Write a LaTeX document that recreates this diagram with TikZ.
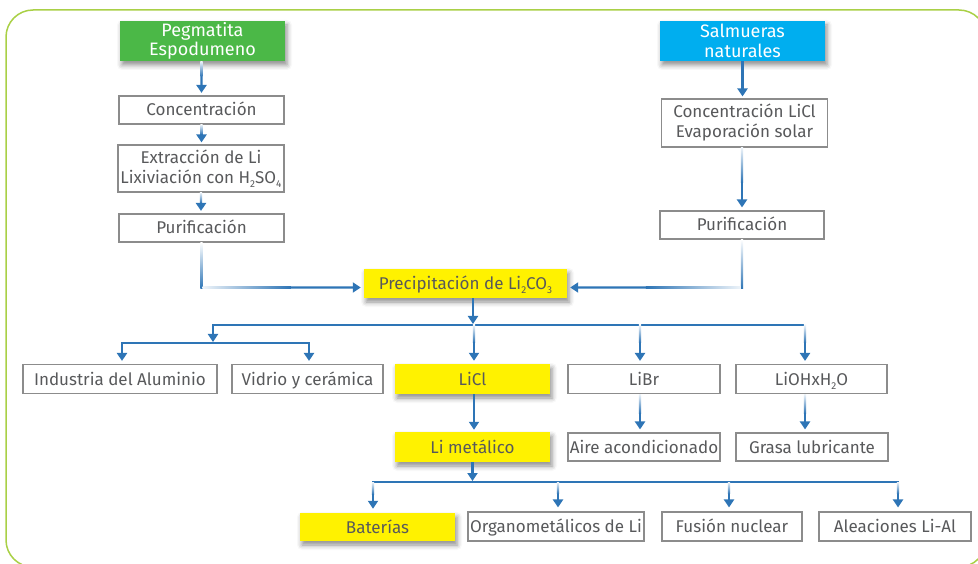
\documentclass[tikz,border=0pt]{standalone}
\usepackage{fontspec}
\setmainfont{Fira Sans}
\usetikzlibrary{arrows.meta,calc,shadows.blur}
\definecolor{frameg}{HTML}{A9D046}
\definecolor{arrowb}{HTML}{2E75B6}
\definecolor{boxg}{HTML}{8C8C8C}
\definecolor{txt}{HTML}{58595B}
\definecolor{yel}{HTML}{FFF200}
\definecolor{grn}{HTML}{4BB847}
\definecolor{cya}{HTML}{00AEEF}
\newcommand\sbs[1]{\raisebox{-0.45ex}{\fontsize{10}{10}\selectfont #1}}
% vertical connector, light at the start: start, end, fraction of gradient, shorten
\newcommand\vgrad[4]{%
  \shade[top color=arrowb!8, bottom color=arrowb] ($(#1)+(-1.1pt,0)$) rectangle ($(#1)!#3!(#2)+(1.1pt,0)$);
  \draw[arr, shorten >=#4] ($(#1)!#3!(#2)$) -- (#2);}
\tikzset{
  txtfont/.style={font=\fontsize{17}{20}\selectfont},
  one/.style={text height=12pt, text depth=0pt},
  box/.style={draw=boxg, line width=1.1pt, fill=white, text=txt, inner sep=0pt, align=center, txtfont},
  shad/.style={blur shadow={shadow xshift=2pt, shadow yshift=-4pt, shadow blur radius=5pt, shadow opacity=45}},
  ybox/.style={fill=yel, text=txt, inner sep=0pt, align=center, txtfont, shad},
  topbox/.style={text=white, inner sep=0pt, align=center, font=\fontsize{18}{19.5}\selectfont, shad, minimum width=165pt, minimum height=40pt},
  conn/.style={draw=arrowb, line width=2.2pt},
  arr/.style={conn, -{Triangle[width=10pt,length=8pt]}}
}
\begin{document}
\begin{tikzpicture}[x=1pt,y=-1pt]
\useasboundingbox (0,0) rectangle (978,564);
\begin{scope}
\clip (0,0) rectangle (978,564);
\draw[frameg, line width=1.5pt, rounded corners=27pt] (6,10) rectangle (986,567);
\end{scope}

% left branch
\node[topbox, fill=grn] (peg) at (202.5,41) {Pegmatita\\Espodumeno};
\node[box, one, minimum width=165pt, minimum height=28pt] (c1) at (201.5,110) {Concentración};
\node[box, minimum width=166pt, minimum height=47pt] (ext) at (201,168.5) {Extracción de Li\\Lixiviación con H\sbs{2}SO\sbs{4}};
\node[box, one, minimum width=165pt, minimum height=28pt] (pur1) at (201.5,228) {Purificación};

% right branch
\node[topbox, fill=cya] (sal) at (742.5,41) {Salmueras\\naturales};
\node[box, minimum width=166pt, minimum height=48pt] (c2) at (744.5,123) {Concentración LiCl\\Evaporación solar};
\node[box, one, minimum width=164pt, minimum height=28pt] (pur2) at (742,225) {Purificación};

% center
\node[ybox, one, minimum width=203pt, minimum height=29pt] (prec) at (465.5,283.5) {Precipitación de Li\sbs{2}CO\sbs{3}};

\node[box, one, minimum width=194pt, minimum height=29pt] (ind) at (120,379) {Industria del Aluminio};
\node[box, one, minimum width=151pt, minimum height=29pt] (vid) at (307.5,379) {Vidrio y cerámica};
\node[ybox, one, minimum width=155pt, minimum height=30pt] (licl) at (472.5,379) {LiCl};
\node[box, one, minimum width=152pt, minimum height=29pt] (libr) at (644,379) {LiBr};
\node[box, one, minimum width=151pt, minimum height=29pt] (lioh) at (811.5,379) {LiOHxH\sbs{2}O};

\node[ybox, one, minimum width=155pt, minimum height=30pt] (limet) at (472.5,447) {Li metálico};
\node[box, one, minimum width=152pt, minimum height=28pt] (aire) at (644,447) {Aire acondicionado};
\node[box, one, minimum width=152pt, minimum height=28pt] (grasa) at (812,447) {Grasa lubricante};

\node[ybox, one, minimum width=155pt, minimum height=28pt] (bat) at (377.5,527) {Baterías};
\node[box, one, minimum width=176pt, minimum height=29pt] (org) at (556,526.5) {Organometálicos de Li};
\node[box, one, minimum width=140pt, minimum height=29pt] (fus) at (732,526.5) {Fusión nuclear};
\node[box, one, minimum width=152pt, minimum height=29pt] (ale) at (895,526.5) {Aleaciones Li-Al};

% helper coordinates
\coordinate (s1) at (c1.north |- peg.south);
\coordinate (s2) at (c1.south);
\coordinate (e2) at (s2 |- ext.north);
\coordinate (s3) at (ext.south);
\coordinate (e3) at (s3 |- pur1.north);
\coordinate (s4) at (pur1.south);
\coordinate (s5) at (pur2.north |- c2.south);
\coordinate (s6) at (pur2.south);
\coordinate (pl) at ([yshift=-4pt]prec.west);
\coordinate (pr) at ([yshift=-4pt]prec.east);
\coordinate (cl) at (pur1.south |- pl);
\coordinate (cr) at (pur2.south |- pr);
\coordinate (b1L) at (213,325);
\coordinate (b1R) at (805,325);
\coordinate (b2L) at (122,343);
\coordinate (b2R) at (309,343);
\coordinate (ps) at ([xshift=7.5pt]prec.south);
\coordinate (tl) at (474,325);
\coordinate (tb) at (640,325);
\coordinate (el) at (tl |- licl.north);
\coordinate (eb) at (tb |- libr.north);
\coordinate (er) at (b1R |- lioh.north);
\coordinate (tb2) at (tb |- libr.south);
\coordinate (eb2) at (tb |- aire.north);
\coordinate (tr2) at (b1R |- lioh.south);
\coordinate (er2) at (b1R |- grasa.north);
\coordinate (b3L) at (373,482);
\coordinate (b3R) at (898,482);
\coordinate (u2) at (558,482);
\coordinate (u3) at (729,482);
\coordinate (f1) at (b3L |- bat.north);
\coordinate (f2) at (u2 |- org.north);
\coordinate (f3) at (u3 |- fus.north);
\coordinate (f4) at (b3R |- ale.north);

% left connectors
\vgrad{s1}{c1.north}{0.45}{2.5pt}
\vgrad{s2}{e2}{0.5}{2pt}
\vgrad{s3}{e3}{0.5}{2.5pt}
\shade[top color=white, bottom color=arrowb] ($(s4)+(-1.1pt,0)$) rectangle ($(cl)+(1.1pt,-1.1pt)$);
\shade[left color=arrowb!8, right color=arrowb] ($(cl)+(1.1pt,1.1pt)$) rectangle ($(cl)!0.55!(pl)+(0,-1.1pt)$);
\draw[arr, shorten >=3pt] ($(cl)!0.55!(pl)$) -- (pl);

% right connectors
\draw[arr, shorten >=2pt] (sal.south) -- (sal.south |- c2.north);
\vgrad{s5}{pur2.north}{0.55}{3pt}
\shade[top color=white, bottom color=arrowb] ($(s6)+(-1.1pt,0)$) rectangle ($(cr)+(1.1pt,-1.1pt)$);
\shade[left color=arrowb, right color=arrowb!8] ($(cr)+(-1.1pt,1.1pt)$) rectangle ($(cr)!0.55!(pr)+(0,-1.1pt)$);
\draw[arr, shorten >=3pt] ($(cr)!0.55!(pr)$) -- (pr);

% distribution bar
\draw[arr, shorten >=1pt] (ps) -- (ps |- b1L);
\draw[arr, shorten >=1pt] (b1R) -- (b1L) -- (b1L |- b2L);
\draw[{Triangle[width=10pt,length=8pt]}-{Triangle[width=10pt,length=8pt]}, conn, shorten >=3pt, shorten <=3pt] (b2L |- ind.north) -- (b2L) -- (b2R) -- (b2R |- vid.north);
\vgrad{tl}{el}{0.45}{3pt}
\vgrad{tb}{eb}{0.45}{3pt}
\vgrad{b1R}{er}{0.45}{3pt}

% second level
\draw[arr, shorten >=2pt] (tl |- licl.south) -- (tl |- limet.north);
\vgrad{tb2}{eb2}{0.5}{3pt}
\vgrad{tr2}{er2}{0.5}{3pt}

% bottom bar
\draw[arr, shorten >=1pt] (limet.south) -- (limet.south |- b3L);
\draw[conn, line cap=rect] (b3L) -- (b3R);
\vgrad{b3L}{f1}{0.4}{4pt}
\vgrad{u2}{f2}{0.4}{4pt}
\vgrad{u3}{f3}{0.4}{4pt}
\vgrad{b3R}{f4}{0.4}{4pt}
\end{tikzpicture}
\end{document}
